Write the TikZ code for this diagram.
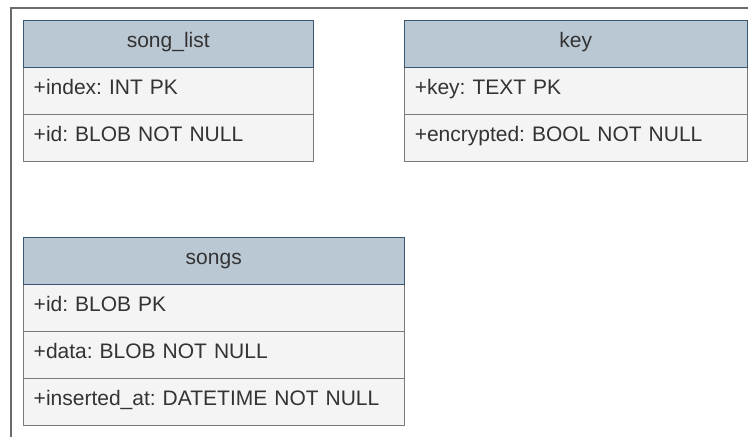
\documentclass[tikz,border=0pt]{standalone}
\usepackage{fontspec}
\setmainfont{Liberation Sans}
\frenchspacing
\definecolor{hdrfill}{HTML}{BAC8D3}
\definecolor{hdrline}{HTML}{3A5670}
\definecolor{rowfill}{HTML}{F4F4F4}
\definecolor{rowline}{HTML}{7A7A7A}
\definecolor{txt}{HTML}{333333}
\definecolor{frameline}{HTML}{6B6B6B}
\tikzset{
  cellfont/.style={font=\fontsize{21}{25}\selectfont, text=txt,
    text height=0.9em, text depth=0.184em},
  hdr/.style={cellfont, draw=hdrline, fill=hdrfill, line width=1.5pt,
    minimum width=#1, minimum height=47pt, inner sep=0pt, anchor=north west},
  fieldrow/.style={cellfont, draw=rowline, fill=rowfill, line width=1.5pt,
    text width=#1, align=left, inner xsep=10.5pt, inner ysep=0pt,
    minimum height=47pt, anchor=north west},
}
\begin{document}
\begin{tikzpicture}[x=1pt, y=-1pt]
\useasboundingbox (0,0) rectangle (748,437);

% page frame (top and left edges)
\coordinate (fbl) at (11,437);
\coordinate (ftl) at (11,8);
\coordinate (ftr) at (748,8);
\draw[frameline, line width=2pt] (fbl) -- (ftl) -- (ftr);

% table song_list
\node[fieldrow=269pt] (sl1) at (22.5,66.5) {+index: INT PK};
\node[fieldrow=269pt] (sl2) at (22.5,113.5) {+id: BLOB NOT NULL};
\node[hdr=290pt] (slh) at (22.5,19.5) {song\_list};

% table key
\node[fieldrow=322pt] (k1) at (403.5,66.5) {+key: TEXT PK};
\node[fieldrow=322pt] (k2) at (403.5,113.5) {+encrypted: BOOL NOT NULL};
\node[hdr=343pt] (kh) at (403.5,19.5) {key};

% table songs
\node[fieldrow=360pt] (s1) at (22.5,283.5) {+id: BLOB PK};
\node[fieldrow=360pt] (s2) at (22.5,330.5) {+data: BLOB NOT NULL};
\node[fieldrow=360pt] (s3) at (22.5,377.5) {+inserted\_at: DATETIME NOT NULL};
\node[hdr=381pt] (sh) at (22.5,236.5) {songs};
\end{tikzpicture}
\end{document}
